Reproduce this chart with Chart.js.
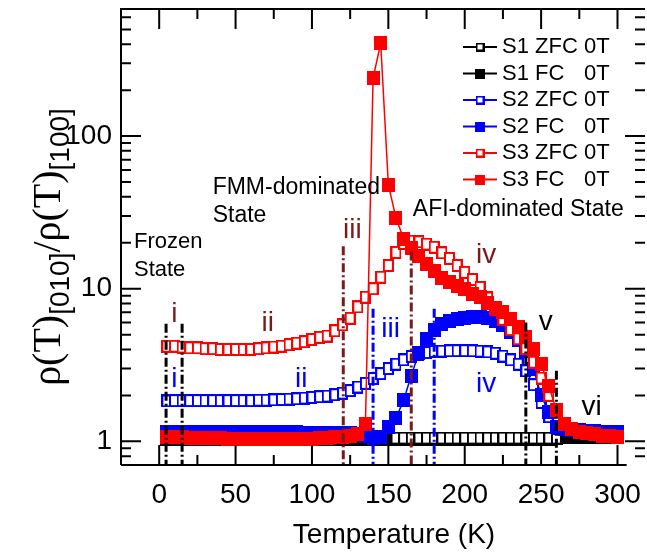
<!DOCTYPE html>
<html>
<head>
<meta charset="utf-8">
<script src="https://cdn.jsdelivr.net/npm/chart.js@4.4.1/dist/chart.umd.min.js"></script>
<style>
  html, body { margin: 0; padding: 0; background: #fff; }
</style>
</head>
<body>
<canvas id="c" width="647" height="556"></canvas>
<script>
// temperature points (K)
const temps = [5, 10, 15, 20, 25, 30, 35, 40, 45, 50, 55, 60, 65, 70, 75, 80, 85, 90, 95, 100,
  105, 110, 115, 120, 125, 130, 135, 140, 145, 150, 155, 160, 165, 170, 175, 180, 185, 190, 195, 200,
  205, 210, 215, 220, 225, 230, 235, 240, 245, 250, 255, 260, 265, 270, 275, 280, 285, 290, 295, 300];

const s1zfc = [null, null, null, null, null, null, null, null, null, null,
  null, null, null, null, null, null, null, null, null, null,
  null, null, null, null, null, null, null, null, null, null,
  1.05, 1.05, 1.05, 1.05, 1.05, 1.05, 1.05, 1.05, 1.05, 1.05,
  1.05, 1.05, 1.05, 1.05, 1.05, 1.05, 1.05, 1.05, 1.05, 1.05,
  1.05, 1.05, null, null, null, null, null, null, null, null];
const s1fc = [1.04, 1.04, 1.04, 1.04, 1.04, 1.04, 1.04, 1.04, 1.04, 1.04,
  1.04, 1.04, 1.04, 1.04, 1.04, 1.04, 1.04, 1.04, 1.04, 1.04,
  1.04, 1.04, 1.04, 1.04, 1.04, 1.04, 1.04, 1.04, 1.04, 1.04,
  1.04, 1.04, 1.04, 1.04, 1.04, 1.04, 1.04, 1.04, 1.04, 1.04,
  1.04, 1.04, 1.04, 1.04, 1.04, 1.04, 1.04, 1.04, 1.04, 1.04,
  1.04, 1.05, 1.06, 1.06, 1.06, 1.06, 1.06, 1.06, 1.06, 1.06];
const s2zfc = [1.84, 1.85, 1.85, 1.85, 1.85, 1.85, 1.85, 1.85, 1.85, 1.85,
  1.85, 1.85, 1.86, 1.86, 1.87, 1.88, 1.89, 1.9, 1.92, 1.94,
  1.96, 1.98, 2.02, 2.07, 2.15, 2.27, 2.4, 2.58, 2.78, 3.0,
  3.2, 3.42, 3.6, 3.72, 3.82, 3.88, 3.9, 3.92, 3.93, 3.93,
  3.92, 3.9, 3.86, 3.78, 3.62, 3.42, 3.2, 2.9, 2.35, 1.8,
  1.45, 1.22, null, null, null, null, null, null, null, null];
const s2fc = [1.16, 1.16, 1.16, 1.16, 1.16, 1.16, 1.15, 1.15, 1.15, 1.15,
  1.15, 1.15, 1.15, 1.15, 1.15, 1.15, 1.15, 1.15, 1.14, 1.14,
  1.14, 1.14, 1.14, 1.13, 1.13, 1.12, 1.08, 1.05, 1.07, 1.25,
  1.42, 1.86, 2.7, 3.8, 4.7, 5.4, 5.85, 6.15, 6.35, 6.45,
  6.5, 6.5, 6.4, 6.15, 5.75, 5.2, 4.6, 3.9, 3.0, 2.0,
  1.55, 1.25, 1.2, 1.19, 1.18, 1.17, 1.17, 1.16, 1.16, 1.15];
const s3zfc = [4.2, 4.2, 4.15, 4.1, 4.1, 4.05, 4.05, 4.0, 4.0, 4.0,
  4.0, 4.0, 4.05, 4.1, 4.15, 4.2, 4.3, 4.4, 4.5, 4.65,
  4.8, 4.9, 5.3, 5.8, 6.4, 7.6, 8.8, 10.0, 11.9, 14.2,
  17.3, 19.8, 20.5, 20.3, 19.6, 18.7, 17.2, 15.8, 14.2, 12.8,
  11.5, 10.2, 8.7, 7.3, 6.3, 5.4, 4.7, 4.05, 3.3, 2.6,
  2.0, null, null, null, null, null, null, null, null, null];
const s3fc = [1.06, 1.06, 1.06, 1.05, 1.05, 1.05, 1.05, 1.05, 1.04, 1.04,
  1.04, 1.04, 1.04, 1.04, 1.04, 1.04, 1.04, 1.04, 1.04, 1.04,
  1.05, 1.05, 1.06, 1.07, 1.08, 1.12, 1.3, 240, 405, 48,
  29, 21.3, 18.5, 16.5, 14.6, 13.0, 11.8, 11.0, 10.4, 9.9,
  9.3, 8.8, 8.1, 7.5, 7.0, 6.3, 5.6, 4.8, 4.0, 3.2,
  2.3, 1.6, 1.3, 1.2, 1.16, 1.13, 1.11, 1.09, 1.08, 1.07];

const seriesNames = ['S1 ZFC', 'S1 FC', 'S2 ZFC', 'S2 FC', 'S3 ZFC', 'S3 FC'];
const seriesField = ['0T', '0T', '0T', '0T', '0T', '0T'];

// axis ticks
const xMajor = [0, 50, 100, 150, 200, 250, 300];
const xMinor = [25, 75, 125, 175, 225, 275];
const yMajor = [1, 10, 100];
const yMinor = [0.8, 0.9, 2, 3, 4, 5, 6, 7, 8, 9, 20, 30, 40, 50, 60, 70, 80, 90, 200, 300, 400, 500, 600];

// dash-dot region boundaries (T, top value)
const bounds = [
  { t: 4.5, top: 5.9, c: '#000000' },
  { t: 15, top: 5.9, c: '#000000' },
  { t: 120.5, top: 19, c: '#7b1a1a' },
  { t: 165, top: 17.5, c: '#7b1a1a' },
  { t: 140, top: 7.4, c: '#0000ff' },
  { t: 180, top: 7.4, c: '#0000ff' },
  { t: 240, top: 6.0, c: '#000000' },
  { t: 260, top: 2.9, c: '#000000' }
];

const SANS = "'Liberation Sans', Arial, sans-serif";
const SERIF = "'Liberation Serif', 'Times New Roman', serif";

// text notes placed in data coordinates
const notes = [
  { t: -16.5, v: 20.4, s: 'Frozen', c: '#000', size: 22, align: 'left' },
  { t: -16.5, v: 13.2, s: 'State', c: '#000', size: 22, align: 'left' },
  { t: 35, v: 46, s: 'FMM-dominated', c: '#000', size: 23, align: 'left' },
  { t: 35, v: 30, s: 'State', c: '#000', size: 23, align: 'left' },
  { t: 166, v: 33, s: 'AFI-dominated State', c: '#000', size: 23, align: 'left' },
  { t: 10, v: 6.8, s: 'i', c: '#7b1a1a', size: 28, align: 'center' },
  { t: 71, v: 5.9, s: 'ii', c: '#7b1a1a', size: 28, align: 'center' },
  { t: 126.5, v: 24, s: 'iii', c: '#7b1a1a', size: 28, align: 'center' },
  { t: 214, v: 16.5, s: 'iv', c: '#7b1a1a', size: 28, align: 'center' },
  { t: 10, v: 2.57, s: 'i', c: '#0000ff', size: 28, align: 'center' },
  { t: 93, v: 2.57, s: 'ii', c: '#0000ff', size: 28, align: 'center' },
  { t: 151.5, v: 5.4, s: 'iii', c: '#0000ff', size: 28, align: 'center' },
  { t: 214, v: 2.35, s: 'iv', c: '#0000ff', size: 28, align: 'center' },
  { t: 253, v: 6.05, s: 'v', c: '#000', size: 28, align: 'center' },
  { t: 283, v: 1.66, s: 'vi', c: '#000', size: 28, align: 'center' }
];

function marker(w, h, color, open) {
  const c = document.createElement('canvas');
  c.width = w; c.height = h;
  const g = c.getContext('2d');
  if (open) {
    g.fillStyle = '#fff';
    g.fillRect(0, 0, w, h);
    g.strokeStyle = color;
    g.lineWidth = 2;
    g.strokeRect(1, 1, w - 2, h - 2);
  } else {
    g.fillStyle = color;
    g.fillRect(0, 0, w, h);
  }
  return c;
}

const colors = ['#000000', '#000000', '#0000ff', '#0000ff', '#ff0000', '#ff0000'];
const openFlags = [true, false, true, false, true, false];
const allData = [s1zfc, s1fc, s2zfc, s2fc, s3zfc, s3fc];
const drawOrder = [4, 5, 3, 2, 1, 0];

const datasets = allData.map((arr, i) => ({
  label: seriesNames[i] + ' ' + seriesField[i],
  data: temps.map((t, k) => ({ x: t, y: arr[k] })),
  borderColor: colors[i],
  backgroundColor: colors[i],
  borderWidth: 1.5,
  pointStyle: openFlags[i] ? marker(11, 13, colors[i], true) : marker(13, 14, colors[i], false),
  pointRadius: 6,
  order: drawOrder[i],
  tension: 0,
  spanGaps: false
}));

// kill the automatic label padding so the plot box is where the original is
const noPad = s => { s.paddingTop = 0; s.paddingBottom = 0; s.paddingLeft = 0; s.paddingRight = 0; };

const frame = {
  id: 'frame',
  afterDatasetsDraw(chart) {
    const { ctx, scales: { x, y } } = chart;
    ctx.save();
    ctx.lineWidth = 3;
    ctx.setLineDash([9, 3, 2, 3]);
    bounds.forEach(b => {
      ctx.strokeStyle = b.c;
      const px = x.getPixelForValue(b.t);
      ctx.beginPath();
      ctx.moveTo(px, y.getPixelForValue(b.top));
      ctx.lineTo(px, chart.chartArea.bottom);
      ctx.stroke();
    });
    ctx.setLineDash([]);
    notes.forEach(n => {
      ctx.font = n.size + 'px ' + SANS;
      ctx.fillStyle = n.c;
      ctx.textAlign = n.align;
      ctx.textBaseline = 'middle';
      ctx.fillText(n.s, x.getPixelForValue(n.t), y.getPixelForValue(n.v));
    });
    ctx.restore();
  },
  afterDraw(chart) {
    const { ctx, chartArea: a, scales: { x, y } } = chart;
    ctx.save();
    ctx.strokeStyle = '#000';
    ctx.lineWidth = 2;
    ctx.beginPath();
    ctx.moveTo(a.left, a.bottom); ctx.lineTo(a.left, a.top); ctx.lineTo(a.right, a.top);
    ctx.moveTo(a.left, a.bottom); ctx.lineTo(x.getPixelForValue(306), a.bottom);
    ctx.stroke();
    ctx.beginPath();
    const xt = (v, len) => {
      const p = x.getPixelForValue(v);
      ctx.moveTo(p, a.bottom); ctx.lineTo(p, a.bottom - len);
      ctx.moveTo(p, a.top); ctx.lineTo(p, a.top + len);
    };
    const yt = (v, len) => {
      const p = y.getPixelForValue(v);
      ctx.moveTo(a.left, p); ctx.lineTo(a.left + len, p);
      ctx.moveTo(a.right, p); ctx.lineTo(a.right - len, p);
    };
    xMajor.forEach(v => xt(v, 20));
    xMinor.forEach(v => xt(v, 10));
    yMajor.forEach(v => yt(v, 20));
    yMinor.forEach(v => yt(v, 10));
    ctx.stroke();

    // legend
    ctx.lineWidth = 2;
    ctx.font = '22px ' + SANS;
    ctx.textBaseline = 'middle';
    ctx.textAlign = 'left';
    seriesNames.forEach((name, i) => {
      const ly = 47 + i * 26.5;
      ctx.strokeStyle = colors[i];
      ctx.beginPath();
      ctx.moveTo(463, ly); ctx.lineTo(497, ly);
      ctx.stroke();
      const m = openFlags[i] ? marker(9, 9, colors[i], true) : marker(10, 10, colors[i], false);
      ctx.drawImage(m, 480 - m.width / 2, ly - m.height / 2);
      ctx.fillStyle = '#000';
      ctx.fillText(name, 502, ly);
      ctx.fillText(seriesField[i], 584, ly);
    });

    // axis titles
    ctx.font = '28px ' + SANS;
    ctx.textAlign = 'center';
    ctx.fillText('Temperature (K)', 394, 535);

    const parts = [
      ['\u03c1(T)', '40px ' + SERIF, 0],
      ['[010]', '28px ' + SANS, 9],
      ['/', '40px ' + SERIF, 0],
      ['\u03c1(T)', '40px ' + SERIF, 0],
      ['[100]', '28px ' + SANS, 9]
    ];
    let total = 0;
    parts.forEach(p => { ctx.font = p[1]; total += ctx.measureText(p[0]).width; });
    ctx.translate(60, 247);
    ctx.rotate(-Math.PI / 2);
    ctx.textAlign = 'left';
    ctx.textBaseline = 'alphabetic';
    let cx = -total / 2;
    parts.forEach(p => {
      ctx.font = p[1];
      ctx.fillText(p[0], cx, p[2]);
      cx += ctx.measureText(p[0]).width;
    });
    ctx.restore();
  }
};

new Chart(document.getElementById('c'), {
  type: 'line',
  data: { datasets },
  options: {
    responsive: false,
    animation: false,
    devicePixelRatio: 1,
    layout: { autoPadding: false, padding: { top: 9, right: 2, left: 0, bottom: 0 } },
    plugins: { legend: { display: false }, tooltip: { enabled: false } },
    scales: {
      x: {
        type: 'linear', min: -25, max: 318,
        grid: { display: false, drawTicks: false },
        border: { display: false },
        afterBuildTicks: s => { s.ticks = xMajor.map(v => ({ value: v })); },
        afterFit: s => { s.height = 91; noPad(s); },
        ticks: { font: { family: SANS, size: 28 }, color: '#000', padding: 13, maxRotation: 0, autoSkip: false }
      },
      y: {
        type: 'logarithmic', min: 0.73, max: 680,
        grid: { display: false, drawTicks: false },
        border: { display: false },
        afterBuildTicks: s => { s.ticks = yMajor.map(v => ({ value: v })); },
        afterFit: s => { s.width = 121; noPad(s); },
        ticks: { font: { family: SANS, size: 28 }, color: '#000', padding: 9, autoSkip: false, callback: v => String(v) }
      }
    }
  },
  plugins: [frame]
});
</script>
</body>
</html>
